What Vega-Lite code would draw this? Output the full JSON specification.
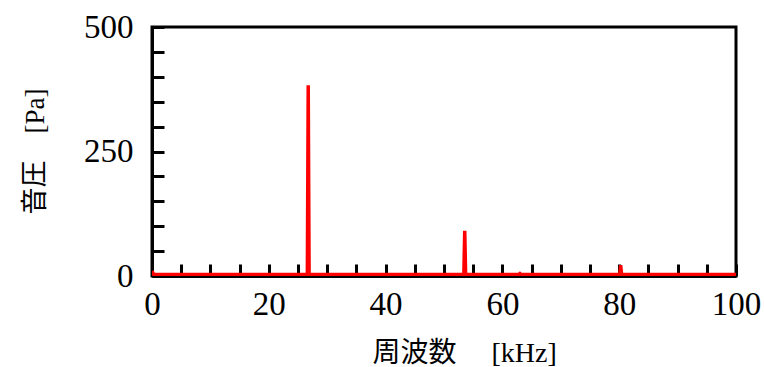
{
  "$schema": "https://vega.github.io/schema/vega-lite/v6.json",
  "autosize": {"type": "none"},
  "padding": {"left": 152, "top": 27, "right": 28, "bottom": 91},
  "width": 584,
  "height": 249,
  "background": "white",
  "config": {
    "view": {"stroke": "black", "strokeWidth": 3},
    "font": "Liberation Serif"
  },
  "data": {
    "values": [
      {"f": 0, "p": 10},
      {"f": 0.3, "p": 3},
      {"f": 10, "p": 3},
      {"f": 20, "p": 3},
      {"f": 26.6, "p": 3},
      {"f": 26.75, "p": 383},
      {"f": 26.9, "p": 3},
      {"f": 40, "p": 3},
      {"f": 53.4, "p": 3},
      {"f": 53.55, "p": 91},
      {"f": 53.7, "p": 3},
      {"f": 62.8, "p": 3},
      {"f": 63.0, "p": 5},
      {"f": 63.2, "p": 3},
      {"f": 80.1, "p": 3},
      {"f": 80.25, "p": 22},
      {"f": 80.4, "p": 3},
      {"f": 90, "p": 3},
      {"f": 100, "p": 3}
    ]
  },
  "mark": {"type": "line", "color": "#ff0000", "strokeWidth": 3.5, "clip": true},
  "encoding": {
    "x": {
      "field": "f", "type": "quantitative",
      "scale": {"domain": [0, 100], "nice": false, "zero": false},
      "axis": {
        "title": "周波数　 [kHz]",
        "titleFont": "Liberation Serif, Noto Sans CJK JP",
        "titleFontSize": 28, "titleFontWeight": "normal", "titleColor": "black",
        "titleX": 220, "titleY": 77, "titleAlign": "left", "titleBaseline": "middle", "titleAnchor": "start",
        "values": [0,5,10,15,20,25,30,35,40,45,50,55,60,65,70,75,80,85,90,95,100],
        "labelExpr": "datum.value % 20 == 0 ? datum.label : ''",
        "labelFont": "Liberation Serif", "labelFontSize": 33, "labelColor": "black",
        "labelPadding": 24, "labelFlush": false, "labelOverlap": false,
        "tickSize": -12, "tickWidth": 3, "tickColor": "black",
        "domainColor": "black", "domainWidth": 3,
        "grid": false
      }
    },
    "y": {
      "field": "p", "type": "quantitative",
      "scale": {"domain": [0, 500], "nice": false},
      "axis": {
        "title": "音圧　[Pa]",
        "titleFont": "Liberation Serif, Noto Sans CJK JP",
        "titleFontSize": 27, "titleFontWeight": "normal", "titleColor": "black",
        "titleX": -117, "titleY": 187, "titleAlign": "left", "titleBaseline": "middle", "titleAngle": -90, "titleAnchor": "start",
        "values": [0,50,100,150,200,250,300,350,400,450,500],
        "labelExpr": "datum.value % 250 == 0 ? datum.label : ''",
        "labelFont": "Liberation Serif", "labelFontSize": 33, "labelColor": "black",
        "labelPadding": 31, "labelFlush": false, "labelOverlap": false,
        "tickSize": -12, "tickWidth": 3, "tickColor": "black",
        "domainColor": "black", "domainWidth": 3,
        "grid": false
      }
    }
  }
}
